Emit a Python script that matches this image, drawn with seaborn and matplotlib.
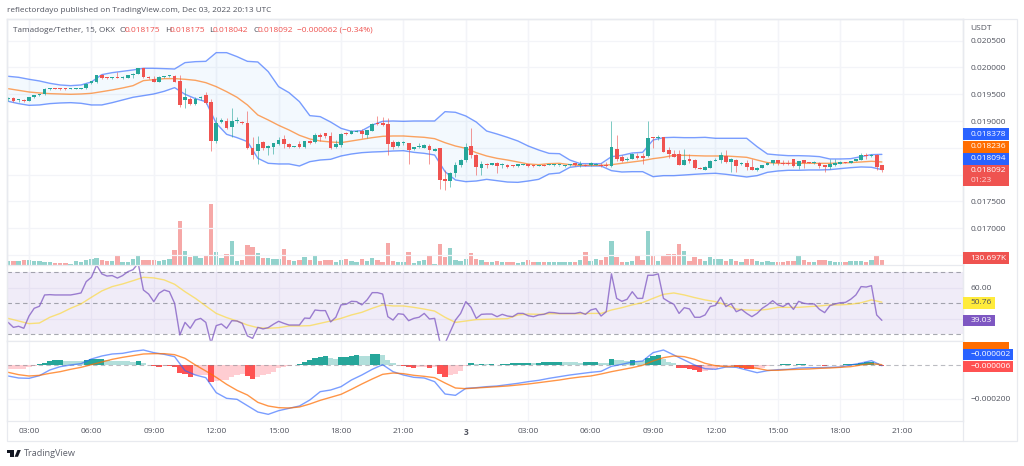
# Tamadoge/Tether 15m chart: candles + Bollinger + volume, RSI pane, MACD pane.
import matplotlib
matplotlib.use('Agg')
import matplotlib.pyplot as plt
import numpy as np
import pandas as pd
import seaborn as sns
from matplotlib.patches import Polygon, Rectangle

W, H = 1024, 466

# bars are numbered from the 03:00 candle of Dec 2, prices in millionths of USDT
candle_open = [
    19405, 19430, 19387, 19393, 19380, 19443, 19480, 19499, 19598, 19604,
    19604, 19604, 19598, 19604, 19604, 19611, 19704, 19729, 19860, 19816,
    19803, 19816, 19797, 19810, 19866, 19884, 19984, 19816, 19791, 19735,
    19816, 19835, 19847, 19748, 19399, 19405, 19312, 19424, 19486, 19356,
    18622, 18983, 19007, 18883, 19001, 18970, 18970, 18491, 18435, 18603,
    18497, 18516, 18578, 18672, 18572, 18516, 18566, 18510, 18622, 18603,
    18740, 18771, 18727, 18516,
    18553, 18777, 18764, 18802, 18820, 18740, 18820, 18970, 18970, 18945,
    18609, 18540, 18584, 18584, 18472, 18509, 18503, 18534, 18447, 18491,
    17912, 17887, 18030, 18173, 18273, 18528, 18372, 18124, 18205, 18186,
    18211, 18186, 18186, 18167, 18155, 18186, 18192, 18180, 18161, 18186,
    18180, 18173, 18173, 18155, 18173, 18211, 18186, 18180, 18173, 18186,
    18186, 18173, 18161, 18484, 18335, 18279, 18298, 18354, 18348, 18348,
    18696, 18677, 18696, 18460, 18379, 18392, 18186, 18292, 18267, 18130,
    18093, 18130, 18261, 18273, 18348, 18242, 18273, 18193, 18224, 18149,
    18087, 18130, 18180, 18224, 18267, 18211, 18224, 18286, 18168, 18267,
    18230, 18224, 18224, 18174, 18149, 18180, 18205, 18230, 18217, 18255,
    18280, 18348, 18354, 18373, 18175,
]
candle_close = [
    19430, 19380, 19393, 19368, 19443, 19480, 19505, 19604, 19604, 19598,
    19592, 19592, 19604, 19611, 19617, 19698, 19741, 19853, 19810, 19797,
    19810, 19803, 19816, 19860, 19872, 19984, 19822, 19797, 19735, 19816,
    19841, 19847, 19735, 19300, 19455, 19312, 19412, 19437, 19343, 18634,
    18970, 19014, 18877, 19001, 19014, 18958, 18491, 18360, 18578, 18491,
    18535, 18584, 18647, 18572, 18516, 18528, 18510, 18622, 18597, 18740,
    18709, 18721, 18491, 18566,
    18758, 18758, 18814, 18814, 18758, 18827, 18945, 18951, 18920, 18572,
    18522, 18603, 18596, 18466, 18509, 18522, 18559, 18460, 18484, 17900,
    17881, 18030, 18173, 18273, 18516, 18372, 18136, 18205, 18186, 18211,
    18155, 18198, 18149, 18155, 18192, 18192, 18155, 18155, 18180, 18167,
    18186, 18186, 18180, 18180, 18186, 18173, 18198, 18167, 18211, 18205,
    18161, 18161, 18509, 18298, 18261, 18298, 18385, 18317, 18317, 18677,
    18677, 18708, 18429, 18379, 18336, 18186, 18273, 18249, 18118, 18106,
    18143, 18255, 18280, 18367, 18236, 18286, 18168, 18205, 18137, 18093,
    18130, 18174, 18217, 18267, 18211, 18205, 18205, 18161, 18255, 18217,
    18224, 18230, 18168, 18137, 18199, 18217, 18236, 18224, 18249, 18286,
    18360, 18342, 18367, 18143, 18092,
]
candle_low = [
    19374, 19362, 19362, 19362, 19368, 19430, 19474, 19493, 19586, 19592,
    19586, 19586, 19592, 19598, 19598, 19604, 19698, 19716, 19791, 19791,
    19791, 19797, 19791, 19803, 19797, 19878, 19803, 19779, 19729, 19729,
    19803, 19828, 19723, 19256, 19250, 19293, 19306, 19393, 19325, 18441,
    18591, 18970, 18858, 18709, 18970, 18945, 18479, 18286, 18199, 18466,
    18367, 18379, 18553, 18491, 18491, 18510, 18491, 18497, 18578, 18584,
    18634, 18678, 18479, 18497,
    18522, 18740, 18752, 18796, 18677, 18677, 18808, 18920, 18907, 18366,
    18484, 18509, 18553, 18198, 18460, 18497, 18491, 18198, 18441, 17726,
    17713, 17763, 17962, 18136, 18236, 18304, 17993, 17993, 18117, 18173,
    18037, 18117, 18117, 18142, 18149, 18180, 18149, 18149, 18155, 18161,
    18173, 18167, 18161, 18149, 18161, 18161, 18149, 18155, 18161, 18173,
    18149, 18149, 18149, 18261, 18236, 18248, 18285, 18285, 18198, 18335,
    18491, 18646, 18416, 18305, 18323, 18180, 18180, 18211, 18099, 18099,
    18087, 18118, 18249, 18224, 18211, 18050, 18050, 18180, 18081, 18087,
    18062, 18118, 18174, 18186, 18180, 18180, 18186, 18149, 18099, 18118,
    18211, 18193, 18130, 18056, 18099, 18168, 18199, 18211, 18211, 18249,
    18273, 18286, 18329, 18081, 18042,
]
candle_high = [
    19455, 19455, 19412, 19405, 19455, 19493, 19511, 19617, 19611, 19611,
    19611, 19611, 19611, 19617, 19623, 19704, 19748, 19866, 19872, 19828,
    19822, 19909, 19835, 19866, 19903, 19990, 19990, 19841, 19841, 19841,
    19847, 19853, 19860, 19853, 19617, 19443, 19455, 19468, 19549, 19418,
    19070, 19051, 19051, 19237, 19070, 18995, 19194, 18703, 18715, 18622,
    18553, 18597, 18703, 18734, 18584, 18541, 18634, 18634, 18647, 18771,
    18783, 18783, 18790, 18647,
    18783, 18802, 18833, 18827, 18845, 18839, 18957, 19094, 19069, 19050,
    18646, 18628, 18621, 18596, 18522, 18584, 18572, 18572, 18497, 18503,
    18086, 18049, 18242, 18298, 18584, 18876, 18385, 18248, 18217, 18223,
    18229, 18211, 18198, 18180, 18198, 18198, 18198, 18186, 18186, 18198,
    18198, 18192, 18186, 18186, 18198, 18223, 18254, 18198, 18242, 18211,
    18211, 18242, 18994, 18733, 18366, 18335, 18397, 18410, 18397, 18994,
    18708, 18733, 18709, 18510, 18460, 18460, 18479, 18379, 18286, 18149,
    18161, 18273, 18317, 18416, 18460, 18305, 18286, 18242, 18273, 18286,
    18149, 18180, 18230, 18273, 18273, 18273, 18273, 18298, 18261, 18273,
    18242, 18249, 18236, 18180, 18286, 18286, 18261, 18242, 18255, 18298,
    18410, 18398, 18379, 18379, 18175,
]
volume_k = [
    100, 120, 110, 130, 130, 110, 100, 90, 70, 50,
    40, 40, 30, 100, 90, 140, 160, 210, 130, 100,
    100, 250, 90, 80, 160, 290, 150, 150, 150, 120,
    150, 170, 440, 1300, 400, 220, 280, 200, 250, 1830,
    380, 200, 320, 710, 120, 130, 600, 520, 360, 200,
    190, 180, 180, 460, 130, 100, 130, 230, 150, 280,
    110, 130, 130, 90,
    140, 170, 120, 80, 180, 100, 190, 150, 80, 640,
    120, 80, 80, 390, 60, 120, 150, 270, 30, 610,
    240, 510, 130, 110, 180, 340, 180, 150, 70, 70,
    120, 80, 90, 80, 60, 80, 150, 80, 80, 80,
    90, 80, 80, 80, 90, 80, 140, 370, 120, 170,
    150, 220, 720, 240, 90, 70, 110, 270, 150, 1010,
    270, 120, 260, 330, 310, 630, 410, 110, 230, 160,
    100, 220, 160, 170, 100, 160, 100, 80, 160, 180,
    100, 80, 100, 80, 80, 80, 110, 110, 250, 130,
    90, 80, 150, 150, 120, 90, 80, 80, 100, 110,
    100, 90, 130, 300, 131,
]
rsi = [
    37.7, 34.5, 35.2, 33.9, 41.8, 46.8, 48.1, 55.4, 55.6, 55.4,
    55.4, 55.4, 55.4, 56.0, 56.7, 64.0, 66.8, 74.7, 69.0, 67.6,
    67.9, 66.3, 67.9, 70.4, 71.7, 75.8, 58.6, 56.0, 51.1, 56.5,
    58.6, 57.5, 50.0, 29.6, 37.7, 33.9, 39.2, 40.3, 37.7, 24.2,
    35.6, 36.7, 33.9, 38.8, 38.6, 37.1, 29.0, 27.4, 34.5, 33.5,
    34.3, 36.5, 38.4, 37.1, 36.0, 36.0, 36.0, 40.5, 40.3, 45.7,
    45.3, 45.3, 38.0, 41.0,
    49.0, 49.4, 51.3, 51.1, 49.0, 52.2, 56.9, 56.9, 56.0, 41.4,
    39.2, 43.3, 42.9, 38.8, 40.3, 41.0, 43.5, 39.9, 40.3, 25.3,
    24.2, 31.7, 39.2, 43.5, 51.1, 47.4, 40.3, 42.9, 43.1, 43.1,
    41.4, 42.9, 41.8, 41.4, 43.5, 43.5, 42.0, 41.4, 42.5, 42.9,
    44.2, 44.0, 43.5, 43.5, 43.5, 43.5, 44.2, 42.9, 45.7, 46.6,
    41.8, 44.6, 69.0, 53.2, 51.3, 52.6, 57.5, 53.2, 53.2, 68.1,
    68.1, 69.0, 53.2, 51.1, 49.4, 43.5, 47.2, 46.4, 41.0, 41.0,
    42.5, 47.9, 48.7, 53.9, 47.9, 49.8, 44.6, 46.1, 43.5, 41.4,
    43.5, 46.8, 49.0, 51.7, 49.0, 47.9, 50.0, 46.1, 51.3, 50.0,
    49.6, 49.6, 46.1, 44.0, 48.5, 49.6, 50.4, 50.6, 52.6, 55.4,
    60.8, 60.5, 61.4, 42.5, 39.03,
]
macd_hist = [
    -24, -23, -22, -20, -8, -3, 6, 16, 26, 30,
    31, 28, 26, 25, 24, 30, 36, 38, 39, 32,
    28, 27, 26, 24, 23, 26, 14, 4, -2, -8,
    -4, -5, -12, -44, -54, -68, -60, -58, -56, -98,
    -96, -88, -86, -72, -58, -52, -64, -80, -68, -60,
    -54, -38, -18, -8, -3, 4, 6, 20, 30, 44,
    50, 56, 44, 40,
    50, 52, 58, 62, 56, 55, 66, 67, 62, 34,
    12, 2, -2, -12, -16, -12, -10, -18, -12, -52,
    -68, -58, -52, -32, -4, 14, 6, 8, 6, 10,
    4, 8, 9, 12, 14, 15, 16, 14, 16, 20,
    21, 22, 23, 20, 19, 18, 17, 20, 21, 22,
    14, 13, 38, 32, 30, 28, 32, 26, 24, 46,
    56, 60, 40, 22, 12, -14, -15, -22, -30, -42,
    -36, -28, -20, -12, -8, -6, -10, -16, -20, -22,
    -20, -16, -4, 4, 5, 6, 7, 5, 7, 8,
    3, 2, 1, -1, 2, 3, 4, 6, 8, 11,
    16, 18, 22, 14, -6,
]

# smoother lines, read every second bar
bb_upper = [
    19835, 19816, 19779, 19748, 19704, 19673, 19660, 19673, 19729, 19866,
    19903, 19928, 19953, 19984, 19984, 19978, 19971, 20090, 20108, 20114,
    20276, 20276, 20202, 20114, 20102, 19922, 19642, 19530, 19362, 19101,
    19082, 18982, 18864, 18808, 18820, 18926, 18995, 19001, 18995, 19001,
    19001, 19001, 19175, 19163, 19094, 18982, 18814, 18758, 18696, 18628,
    18534, 18460, 18397, 18391, 18273, 18205, 18205, 18205, 18335, 18360,
    18404, 18416, 18646, 18690, 18696, 18690, 18690, 18696, 18678, 18678,
    18678, 18678, 18522, 18385, 18367, 18354, 18354, 18348, 18336, 18292,
    18292, 18298, 18336, 18373, 18378,
]
bb_lower = [
    19368, 19325, 19293, 19300, 19325, 19337, 19343, 19331, 19300, 19300,
    19343, 19393, 19443, 19474, 19505, 19555, 19623, 19499, 19418, 19362,
    18958, 18752, 18690, 18616, 18305, 18211, 18199, 18199, 18161, 18242,
    18273, 18286, 18348, 18385, 18410, 18422, 18429, 18441, 18447, 18416,
    18397, 18366, 18055, 17900, 17869, 17881, 17912, 17887, 17862, 17856,
    17881, 17912, 18012, 18030, 18136, 18161, 18161, 18161, 18074, 18049,
    18055, 18055, 17962, 17981, 17981, 17993, 18006, 18018, 18025, 18006,
    17981, 17956, 17981, 18043, 18068, 18081, 18081, 18087, 18087, 18093,
    18112, 18130, 18143, 18137, 18094,
]
bb_basis = [
    19604, 19573, 19542, 19524, 19511, 19505, 19499, 19505, 19517, 19548,
    19580, 19617, 19660, 19754, 19772, 19791, 19791, 19779, 19760, 19716,
    19642, 19548, 19443, 19300, 19113, 19020, 18920, 18833, 18734, 18665,
    18628, 18609, 18597, 18628, 18659, 18690, 18715, 18721, 18721, 18708,
    18696, 18671, 18596, 18534, 18491, 18410, 18348, 18304, 18273, 18236,
    18198, 18186, 18205, 18211, 18186, 18173, 18173, 18173, 18186, 18211,
    18236, 18261, 18298, 18323, 18360, 18360, 18354, 18348, 18348, 18348,
    18336, 18323, 18273, 18224, 18211, 18211, 18211, 18211, 18211, 18211,
    18217, 18224, 18236, 18249, 18236,
]
rsi_ma = [
    40.3, 38.6, 36.9, 37.3, 41.0, 43.5, 46.8, 49.6, 53.9, 58.0,
    60.8, 62.5, 64.6, 66.8, 66.4, 65.1, 62.3, 57.5, 53.2, 48.3,
    43.5, 40.8, 38.6, 36.0, 34.3, 33.9, 34.3, 35.4, 35.4, 35.6,
    37.1, 38.6, 40.3, 42.5, 44.2, 46.8, 49.0, 48.3, 48.3, 47.4,
    46.3, 45.0, 41.0, 37.7, 38.6, 39.5, 39.7, 39.9, 40.1, 42.5,
    43.1, 42.9, 43.3, 43.3, 43.3, 43.3, 43.5, 43.5, 45.7, 47.2,
    49.0, 50.5, 53.2, 55.8, 56.7, 55.4, 53.7, 52.2, 51.1, 49.0,
    46.3, 45.7, 45.5, 46.1, 47.4, 47.4, 47.4, 47.9, 48.3, 49.0,
    49.0, 49.4, 50.4, 52.2, 50.76,
]
macd_line = [
    -64, -76, -78, -62, -28, -8, 2, 10, 38, 56,
    68, 72, 84, 92, 76, 66, 52, -32, -58, -74,
    -164, -198, -204, -242, -280, -294, -272, -258, -244, -208,
    -158, -148, -128, -88, -58, -24, 4, -38, -58, -72,
    -76, -98, -172, -180, -138, -134, -128, -124, -116, -108,
    -98, -90, -78, -68, -58, -50, -42, -36, -6, 6,
    20, 26, 76, 92, 62, 32, 2, -20, -24, -10,
    -12, -28, -44, -32, -26, -24, -16, -14, -14, -12,
    -10, 2, 14, 28, -2,
]
macd_signal = [
    -42, -56, -64, -60, -48, -38, -24, -12, 4, 20,
    36, 48, 58, 68, 70, 70, 64, 42, 2, -34,
    -72, -114, -150, -178, -222, -244, -254, -256, -250, -232,
    -210, -192, -174, -144, -112, -82, -54, -46, -50, -60,
    -66, -74, -106, -136, -140, -136, -132, -128, -124, -118,
    -112, -104, -96, -88, -78, -70, -64, -52, -38, -26,
    -14, 0, 26, 46, 56, 52, 36, 12, -2, -8,
    -6, -10, -18, -30, -30, -26, -24, -22, -18, -16,
    -12, -8, 2, 10, 4,
]

time_ticks = [0, 12, 24, 36, 48, 60, 72, 84, 96, 108, 120, 132, 144, 156, 168]
time_labels = ['03:00', '06:00', '09:00', '12:00', '15:00', '18:00', '21:00', '3',
               '03:00', '06:00', '09:00', '12:00', '15:00', '18:00', '21:00']
price_ticks = [0.0165, 0.017, 0.0175, 0.018, 0.0185, 0.019, 0.0195, 0.020, 0.0205]
price_labels = ['', '0.017000', '0.017500', '', '', '0.019000', '0.019500', '0.020000', '0.020500']

GREEN, RED = '#26a69a', '#ef5350'
GRID, EDGE = '#f3f4f8', '#e8eaef'
TEXT = '#50535e'
SMALL = 6.0

sns.set_theme(style='white')
plt.rcParams['font.family'] = ['Open Sans', 'DejaVu Sans']


def rect(x0, y0, x1, y1):
    return [x0 / W, 1 - y1 / H, (x1 - x0) / W, (y1 - y0) / H]


def label(x, y, s, **kw):
    kw.setdefault('size', SMALL)
    kw.setdefault('color', TEXT)
    kw.setdefault('va', 'center')
    return fig.text(x / W, 1 - y / H, s, zorder=21, **kw)


def tag(x0, y0, x1, y1, color, s, text_color='white'):
    fig.add_artist(Rectangle((x0 / W, 1 - y1 / H), (x1 - x0) / W, (y1 - y0) / H,
                             transform=fig.transFigure, color=color, lw=0, zorder=20))
    label(x0 + 7.5, (y0 + y1) / 2, s, color=text_color)


k = np.arange(len(candle_open)) - 4
line_k = k[::2]
opens = np.array(candle_open) / 1e6
closes = np.array(candle_close) / 1e6
lows = np.array(candle_low) / 1e6
highs = np.array(candle_high) / 1e6
hist = np.array(macd_hist) / 1e6
up = closes >= opens

# TradingView colours the histogram by sign and direction
prev = np.r_[hist[0] - 1e-6, hist[:-1]]
hist_kind = np.where(hist >= 0, np.where(hist >= prev, 'up_strong', 'up_soft'),
                     np.where(hist <= prev, 'down_strong', 'down_soft'))
hist_colors = {'up_strong': GREEN, 'up_soft': '#b2dfdb', 'down_soft': '#ffcdd2', 'down_strong': '#ff5252'}

df = pd.DataFrame({'k': k, 'volume': np.array(volume_k) * 1e3,
                   'side': np.where(up, 'up', 'down'), 'hist': hist, 'kind': hist_kind})

fig = plt.figure(figsize=(W / 100, H / 100), dpi=100)
ax_vol = fig.add_axes(rect(7, 19, 963, 264.5))
ax = fig.add_axes(rect(7, 19, 963, 264.5))
ax_rsi = fig.add_axes(rect(7, 264.5, 963, 341))
ax_macd = fig.add_axes(rect(7, 341, 963, 421))

# volume sits under the price pane
sns.barplot(data=df, x='k', y='volume', hue='side', palette={'up': GREEN, 'down': RED},
            native_scale=True, dodge=False, width=0.84, saturation=1, alpha=0.5,
            linewidth=0, edgecolor='none', legend=False, ax=ax_vol)
ax_vol.set_ylim(0, 7365000)
ax_vol.set_yticks([])
ax_vol.set_ylabel('')

ax.patch.set_alpha(0)
ax.fill_between(line_k, np.array(bb_lower) / 1e6, np.array(bb_upper) / 1e6, color='#2196f3', alpha=0.05, lw=0)
for band in (bb_upper, bb_lower):
    sns.lineplot(x=line_k, y=np.array(band) / 1e6, color='#2962ff', alpha=0.62, lw=1, estimator=None, ax=ax)
sns.lineplot(x=line_k, y=np.array(bb_basis) / 1e6, color='#ff6d00', alpha=0.62, lw=1, estimator=None, ax=ax)

colors = np.where(up, GREEN, RED)
ax.vlines(k, lows, highs, colors=colors, lw=0.7, alpha=0.6, zorder=3)
ax.bar(k, np.maximum(np.abs(closes - opens), 19e-6), bottom=np.minimum(opens, closes),
       width=0.72, color=colors, lw=0, zorder=4)
ax.set_ylim(0.016323, 0.020904)
ax.set_yticks(price_ticks, price_labels)

ax_rsi.axhspan(30, 70, color='#7e57c2', alpha=0.11, lw=0)
for level in (70, 50, 30):
    ax_rsi.axhline(level, color='#787b86', lw=0.8, ls=(0, (4, 3)), alpha=0.65)
sns.lineplot(x=line_k, y=rsi_ma, color='#fdd835', alpha=0.65, lw=1, estimator=None, ax=ax_rsi)
sns.lineplot(x=k, y=rsi, color='#7e57c2', alpha=0.75, lw=1, estimator=None, ax=ax_rsi)
ax_rsi.set_ylim(25.7, 75.05)
ax_rsi.set_yticks([40, 60], ['', '60.00'])

sns.barplot(data=df, x='k', y='hist', hue='kind', palette=hist_colors, native_scale=True,
            dodge=False, width=1.0, saturation=1, linewidth=0, edgecolor='none', legend=False, ax=ax_macd)
ax_macd.axhline(0, color='#787b86', lw=0.8, ls=(0, (4, 3)), alpha=0.5)
sns.lineplot(x=line_k, y=np.array(macd_line) / 1e6, color='#2962ff', alpha=0.62, lw=1, estimator=None, ax=ax_macd)
sns.lineplot(x=line_k, y=np.array(macd_signal) / 1e6, color='#ff6d00', alpha=0.72, lw=1, estimator=None, ax=ax_macd)
ax_macd.set_ylim(-0.000334, 0.000146)
ax_macd.set_yticks([-0.0002], ['\u22120.000200'])

for a in (ax_vol, ax, ax_rsi, ax_macd):
    a.set_xlim(-4.23, 179.6)
    a.set_xticks(time_ticks)
    a.set_xlabel('')
    a.set_ylabel('')
    a.grid(True, color=GRID, lw=0.9)
    a.set_axisbelow(True)
    a.yaxis.tick_right()
    a.tick_params(axis='y', length=0, pad=5.6, labelsize=SMALL, labelcolor=TEXT)
    a.tick_params(axis='x', length=0, labelbottom=False)
    for spine in a.spines.values():
        spine.set_color(EDGE)
        spine.set_linewidth(0.9)
ax_vol.grid(False, axis='y')
ax_vol.grid(True, axis='x', color=GRID, lw=0.9)
ax.spines['bottom'].set_visible(False)
ax_vol.spines['bottom'].set_visible(False)

ax_macd.set_xticks(time_ticks, time_labels)
ax_macd.tick_params(axis='x', labelbottom=True, labelsize=SMALL, labelcolor=TEXT, pad=5)
for tick_label in ax_macd.get_xticklabels():
    if tick_label.get_text() == '3':
        tick_label.set_fontweight('bold')

# outer frame and the strip with the time scale
fig.add_artist(Rectangle((7 / W, 1 - 441 / H), 1010 / W, 422 / H, transform=fig.transFigure,
                         fill=False, edgecolor=EDGE, lw=0.9, zorder=1))
fig.add_artist(plt.Line2D([963 / W, 963 / W], [1 - 441 / H, 1 - 19 / H], color=EDGE, lw=0.9, zorder=1))

label(7, 11, 'reflectordayo published on TradingView.com, Dec 03, 2022 20:13 UTC', size=5.9)
label(13, 30, 'Tamadoge/Tether, 15, OKX', size=5.9)
for x, s, c in [(119, 'O', TEXT), (125, '0.018175', RED), (165, 'H', TEXT), (170, '0.018175', RED),
                (209, 'L', TEXT), (213, '0.018042', RED), (253, 'C', TEXT), (258, '0.018092', RED),
                (297, '\u22120.000062 (\u22120.34%)', RED)]:
    label(x, 30, s, color=c)
label(970, 29, 'USDT')

tag(963, 128, 1009, 140, '#2962ff', '0.018378')
tag(963, 141, 1009, 153, '#ff6d00', '0.018236')
tag(963, 153, 1009, 164.5, '#2962ff', '0.018094')
tag(963, 165, 1009, 186, RED, '')
label(970.5, 170.5, '0.018092', color='white')
label(970.5, 180.5, '01:23', color='#ffd6d6')
tag(963, 252, 1009, 264, RED, '130.697K')
tag(963, 296.7, 995, 308.7, '#ffeb3b', '50.76', text_color='#50535e')
tag(963, 314.7, 995, 326.3, '#7e57c2', '39.03')
tag(963, 341.7, 1009, 348.7, '#ff6d00', '')
tag(963, 348.7, 1013, 360, '#2962ff', '\u22120.000002')
tag(963, 360.7, 1013, 372, '#ff5252', '\u22120.000006')

# TradingView mark and wordmark under the chart
logo = '#131722'
fig.add_artist(Rectangle((7.3 / W, 1 - 452.6 / H), 6.4 / W, 2.6 / H, transform=fig.transFigure, color=logo, lw=0))
fig.add_artist(Rectangle((10.2 / W, 1 - 456.8 / H), 3.5 / W, 4.4 / H, transform=fig.transFigure, color=logo, lw=0))
fig.add_artist(Polygon([(14.6 / W, 1 - 456.8 / H), (18 / W, 1 - 456.8 / H), (20.8 / W, 1 - 450 / H), (17.4 / W, 1 - 450 / H)],
                       transform=fig.transFigure, color=logo, lw=0))
label(24, 454, 'TradingView', size=6.6, color='#5d606b')

fig.savefig('out.png', dpi=100)
